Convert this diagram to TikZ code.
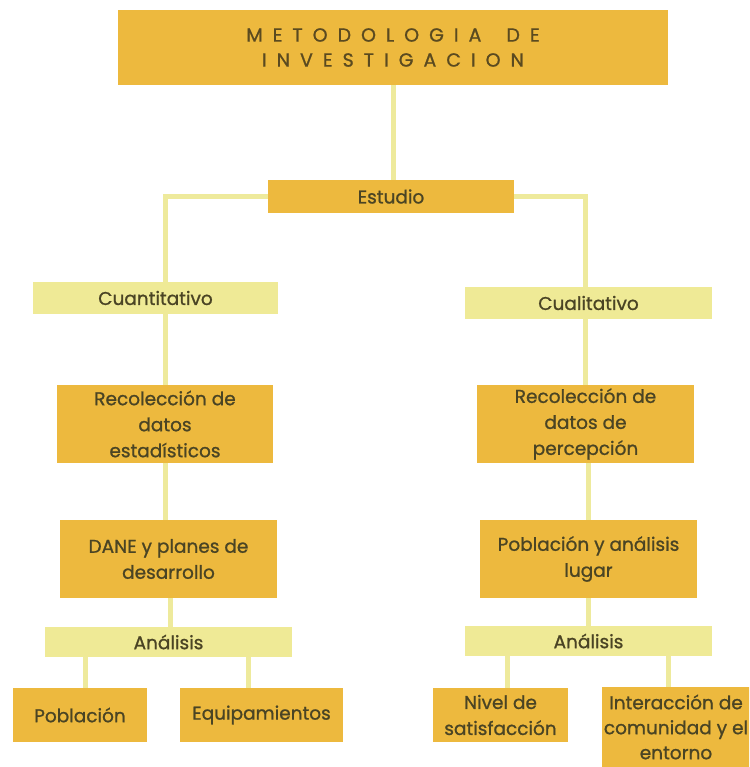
\documentclass[tikz,border=0pt]{standalone}
\usepackage{fontspec}
\setmainfont{Poppins}[FakeBold=1]
\usetikzlibrary{backgrounds,calc}
\definecolor{gold}{HTML}{EDB93E}
\definecolor{pale}{HTML}{EFEA96}
\definecolor{linec}{HTML}{EEEA9C}
\definecolor{txt}{HTML}{4A4424}
\definecolor{toptxt}{HTML}{5A4A20}
\makeatletter
\newcommand\spaceout[1]{\sp@out#1\@nil\kern-10pt}
\def\sp@out#1{\ifx#1\@nil\else#1\kern10pt\expandafter\sp@out\fi}
\makeatother
\tikzset{
  basebox/.style={draw=none, inner sep=0pt, align=center, text=txt,
    font=\fontsize{18.5}{26}\selectfont},
  darkbox/.style={basebox, fill=gold},
  palebox/.style={basebox, fill=pale},
  conn/.style={draw=linec, line width=5pt}
}
\begin{document}
\begin{tikzpicture}[x=1pt, y=-1pt]
\useasboundingbox (0,0) rectangle (749,767);
\clip (0,0) rectangle (749,767);
% title
\node[darkbox, minimum width=550pt, minimum height=75pt, text=toptxt,
  font=\fontsize{19}{25}\selectfont] (top) at (393,47.5)
  {\spaceout{METODOLOGIA~DE}\\\spaceout{INVESTIGACION}};
\node[darkbox, minimum width=246pt, minimum height=33pt] (est) at (391,196.5) {Estudio};
\node[palebox, minimum width=245pt, minimum height=32pt] (cuan) at (155.5,298) {Cuantitativo};
\node[palebox, minimum width=247pt, minimum height=32pt] (cual) at (588.5,303) {Cualitativo};
\node[darkbox, minimum width=216pt, minimum height=78pt] (rec1) at (165,424) {Recolección de\\datos\\estadísticos};
\node[darkbox, minimum width=217pt, minimum height=78pt] (rec2) at (585.5,424) {Recolección de\\datos de\\percepción};
\node[darkbox, minimum width=217pt, minimum height=78pt] (dane) at (168.5,559) {DANE y planes de\\desarrollo};
\node[darkbox, minimum width=217pt, minimum height=78pt] (pob2) at (588.5,559) {Población y análisis\\lugar};
\node[palebox, minimum width=247pt, minimum height=30pt] (an1) at (168.5,642) {Análisis};
\node[palebox, minimum width=247pt, minimum height=30pt] (an2) at (588.5,641) {Análisis};
\node[darkbox, minimum width=134pt, minimum height=54pt] (pobl) at (80,715) {Población};
\node[darkbox, minimum width=163pt, minimum height=54pt] (equip) at (261.5,715) {Equipamientos};
\node[darkbox, minimum width=135pt, minimum height=54pt] (niv) at (500.5,715) {Nivel de\\satisfacción};
\node[darkbox, minimum width=148pt, minimum height=80pt, font=\fontsize{18.5}{25}\selectfont] (inter) at (676,727) {Interacción de\\comunidad y el\\entorno};
\begin{scope}[on background layer]
  \draw[conn] (top.south) -- (top.south |- est.north);
  \draw[conn] (est.west) -| (rec1.north);
  \draw[conn] (est.east) -| (rec2.north);
  \draw[conn] (rec1.south) -- (rec1.south |- dane.north);
  \draw[conn] ([xshift=2pt]dane.south) -- ([xshift=2pt]dane.south |- an1.north);
  \draw[conn] (pob2.north) -- (pob2.north |- rec2.south);
  \draw[conn] (pob2.south) -- (pob2.south |- an2.north);
  \draw[conn] ([xshift=5pt]pobl.north) -- ([xshift=5pt]pobl.north |- an1.south);
  \draw[conn] ([xshift=-13.5pt]equip.north) -- ([xshift=-13.5pt]equip.north |- an1.south);
  \draw[conn] ([xshift=6.5pt]niv.north) -- ([xshift=6.5pt]niv.north |- an2.south);
  \draw[conn] ([xshift=-8pt]inter.north) -- ([xshift=-8pt]inter.north |- an2.south);
\end{scope}
\end{tikzpicture}
\end{document}
